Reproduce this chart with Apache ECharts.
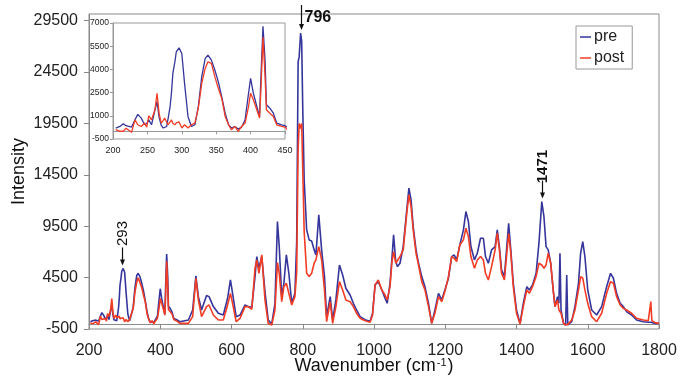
<!DOCTYPE html>
<html>
<head>
<meta charset="utf-8">
<script src="https://cdn.jsdelivr.net/npm/echarts@6/dist/echarts.min.js"></script>
<style>
  html, body { margin: 0; padding: 0; background: #fff; }
  #chart { width: 680px; height: 376px; }
</style>
</head>
<body>
<div id="chart"></div>
<script>
// Raman spectra, pre vs post
const wavenumbers = [
  204, 210, 215, 219, 227, 232, 236, 241, 246, 249, 252, 256, 261, 264, 267, 270, 273, 275, 278, 280,
  283, 285, 287, 290, 292, 296, 300, 304, 309, 314, 319, 324, 329, 334, 338, 343, 348, 353, 358, 363,
  368, 372, 377, 382, 387, 392, 397, 400, 404, 409, 413, 415, 418, 421, 423, 428, 433, 438, 445, 450,
  455, 479, 491, 500, 507, 516, 530, 537, 549, 563, 577, 589, 597, 603, 613, 624, 638, 647, 657, 666,
  671, 677, 685, 694, 703, 713, 722, 729, 734, 741, 747, 754, 761, 769, 778, 783, 787, 790, 794, 797,
  800, 804, 811, 818, 825, 832, 837, 845, 853, 861, 867, 877, 884, 893, 903, 912, 921, 933, 942, 951,
  961, 975, 989, 996, 1003, 1012, 1022, 1031, 1037, 1045, 1050, 1055, 1061, 1066, 1073, 1082, 1092, 1098, 1104, 1110,
  1118, 1124, 1134, 1143, 1153, 1162, 1171, 1181, 1190, 1199, 1209, 1218, 1225, 1232, 1241, 1251, 1258, 1265, 1272, 1282,
  1290, 1299, 1307, 1313, 1321, 1330, 1340, 1346, 1352, 1358, 1366, 1372, 1378, 1384, 1391, 1400, 1410, 1419, 1429, 1436,
  1445, 1455, 1463, 1471, 1477, 1483, 1489, 1496, 1503, 1508, 1515, 1519, 1522, 1525, 1532, 1538, 1541, 1544, 1555, 1564,
  1574, 1580, 1586, 1592, 1600, 1611, 1625, 1639, 1653, 1664, 1672, 1681, 1691, 1700, 1709, 1723, 1737, 1756, 1770, 1777,
  1780, 1789, 1800
];
const pre = [
  210, 310, 480, 360, 270, 740, 1090, 850, 420, 500, 740, 420, 1390, 1920, 900, 400, 210, 250, 310, 800,
  1600, 2500, 3740, 4500, 5140, 5390, 5030, 3100, 960, 310, 420, 1600, 3530, 4710, 4920, 4600, 3960, 3210, 2240, 1170,
  420, 210, 310, 140, 270, 740, 2460, 3420, 2460, 1600, 960, 3530, 6790, 4600, 1710, 1490, 1170, 530, 420, 360,
  210, 380, 1350, 4660, 2650, 1350, 2750, 2650, 1680, 1030, 860, 2490, 4270, 2970, 700, 860, 1840, 1680, 1610, 4600,
  6550, 5410, 6550, 3140, 380, -10, 2000, 9960, 7520, 2650, 3950, 6710, 4920, 2000, 2970, 8000, 25500, 26000, 28300, 27500,
  21000, 14000, 9140, 8170, 8070, 7200, 6710, 10600, 7200, 4600, 700, 2650, 380, 2330, 5730, 4760, 3460, 2810, 2000, 1350,
  700, 400, 250, 1030, 3790, 4110, 3300, 2490, 2000, 3950, 6220, 8660, 6060, 5570, 5900, 7520, 11090, 13200, 12070, 9470,
  7200, 6060, 4600, 3620, 2000, 50, 1350, 2970, 2330, 3300, 4440, 6550, 6710, 6220, 7680, 9140, 10930, 9960, 7520, 6220,
  6870, 8330, 8330, 6550, 5900, 7200, 7520, 9140, 7520, 5250, 4600, 7200, 9790, 7200, 3950, 1350, 50, 2000, 3620, 3300,
  3790, 4920, 7850, 11900, 10440, 7520, 7200, 5900, 3300, 1680, 2650, 2000, 6870, 1350, 50, -110, 4760, -110, 210, 1680,
  3950, 6870, 8010, 6550, 3300, 1350, 860, 1680, 3620, 4920, 4440, 2970, 2000, 1680, 1190, 860, 380, 210, 150, 150,
  100, 50, 50
];
const post = [
  100, 0, 0, 200, -70, 740, 420, 310, 530, 270, 1000, 740, 1390, 2460, 1170, 530, 700, 850, 600, 420,
  600, 740, 500, 420, 550, 600, 210, 420, 210, 420, 530, 1490, 3100, 4060, 4490, 4390, 3530, 2780, 2140, 960,
  420, 100, 310, 0, 310, 530, 1600, 2460, 2030, 1390, 850, 2670, 6100, 3530, 1390, 1170, 960, 420, 310, 270,
  50, 50, 700, 4440, 2330, 700, 1680, 1840, 860, 380, 380, 1840, 2970, 2000, 210, 540, 1680, 1680, 1420, 5410,
  6220, 4920, 6710, 2330, 50, -110, 1350, 5960, 4920, 2160, 3620, 3950, 2970, 1840, 2650, 5000, 17000, 19500, 19000, 19500,
  15000, 9000, 4920, 4600, 4920, 5900, 6220, 7520, 6220, 3300, 210, 2160, 50, 1680, 4110, 3300, 2330, 2160, 1680, 1030,
  540, 300, 150, 860, 3790, 4270, 3300, 2810, 2330, 3620, 5900, 7030, 5900, 5900, 6550, 7200, 10770, 12550, 11420, 9140,
  6870, 5900, 4110, 3300, 1680, 50, 1030, 2650, 2160, 3140, 4600, 6550, 6380, 6060, 7680, 8170, 9310, 8490, 6550, 5410,
  6220, 6550, 6220, 4920, 4270, 5570, 7200, 8820, 7200, 4920, 4270, 6550, 8820, 6870, 3620, 1030, -10, 1680, 3300, 2970,
  3620, 4600, 5900, 5730, 5410, 5730, 6870, 5900, 3300, 1680, 2330, 1350, 1200, 1030, 50, -110, -110, -50, 380, 1350,
  3300, 4600, 4440, 3300, 2000, 700, 210, 1030, 2970, 4110, 3950, 2650, 1840, 1510, 1350, 1030, 540, 380, 310, 2160,
  310, 120, 50
];
const peakLabels = [293, 796, 1471];
const mainXTicks = [200, 400, 600, 800, 1000, 1200, 1400, 1600, 1800];
const mainYTicks = [-500, 4500, 9500, 14500, 19500, 24500, 29500];
const insetXTicks = [200, 250, 300, 350, 400, 450];
const insetYTicks = [-500, 1000, 2500, 4000, 5500, 7000];

const preData = wavenumbers.map((w, i) => [w, pre[i]]);
const postData = wavenumbers.map((w, i) => [w, post[i]]);

const FONT = "'Liberation Sans', Arial, sans-serif";
const BLUE = '#35359c';
const RED = '#f23c24';
const AXIS = '#8a8a8a';
const plain = (v) => String(v);

const chart = echarts.init(document.getElementById('chart'));

const option = {
  animation: false,
  textStyle: { fontFamily: FONT },
  legend: {
    data: ['pre', 'post'],
    orient: 'vertical',
    left: 576,
    top: 26,
    icon: 'rect',
    itemWidth: 11,
    itemHeight: 1.5,
    itemGap: 5,
    padding: [3, 8, 3, 4],
    borderColor: '#999',
    borderWidth: 1,
    backgroundColor: '#fff',
    textStyle: { fontSize: 16, color: '#222', padding: [0, 0, 0, -2] }
  },
  grid: [
    { left: 89, right: 21, top: 14, bottom: 47, show: true, borderColor: AXIS, borderWidth: 1,
      outerBoundsMode: 'none', containLabel: false },
    { left: 113, width: 172, top: 23, height: 116, show: true, borderColor: '#999', borderWidth: 1,
      outerBoundsMode: 'none', containLabel: false }
  ],
  xAxis: [
    {
      type: 'value',
      gridIndex: 0,
      min: mainXTicks[0],
      max: mainXTicks[mainXTicks.length - 1],
      interval: 200,
      name: '{a|Wavenumber (cm}{b|-1}{a|)}',
      nameLocation: 'middle',
      nameGap: 28,
      nameMoveOverlap: false,
      nameTextStyle: {
        rich: {
          a: { fontSize: 18, color: '#111', fontFamily: FONT },
          b: { fontSize: 11, color: '#111', fontFamily: FONT, verticalAlign: 'top', padding: [0, 1, 6, 1] }
        }
      },
      axisLine: { lineStyle: { color: AXIS } },
      axisTick: { length: 5, lineStyle: { color: AXIS } },
      axisLabel: { fontSize: 16, color: '#222', margin: 14, formatter: plain },
      splitLine: { show: false }
    },
    {
      type: 'value',
      gridIndex: 1,
      min: insetXTicks[0],
      max: insetXTicks[insetXTicks.length - 1],
      interval: 50,
      axisLine: { lineStyle: { color: '#999' } },
      axisTick: { length: 3, lineStyle: { color: '#999' } },
      axisLabel: { fontSize: 9, color: '#222', margin: 7, formatter: plain },
      splitLine: { show: false }
    }
  ],
  yAxis: [
    {
      type: 'value',
      gridIndex: 0,
      min: mainYTicks[0],
      max: 30150,
      interval: 5000,
      name: 'Intensity',
      nameLocation: 'middle',
      nameGap: 61,
      nameMoveOverlap: false,
      nameTextStyle: { fontSize: 18, color: '#111' },
      axisLine: { show: true, lineStyle: { color: AXIS } },
      axisTick: { show: true, length: 5, lineStyle: { color: AXIS } },
      axisLabel: { fontSize: 16, color: '#222', margin: 11, showMaxLabel: false, formatter: plain },
      splitLine: { show: false }
    },
    {
      type: 'value',
      gridIndex: 1,
      min: insetYTicks[0],
      max: insetYTicks[insetYTicks.length - 1],
      interval: 1500,
      axisLine: { show: true, lineStyle: { color: '#999' } },
      axisTick: { show: true, length: 3, lineStyle: { color: '#999' } },
      axisLabel: { fontSize: 8.5, color: '#222', margin: 4, formatter: plain },
      splitLine: { show: false }
    }
  ],
  series: [
    { name: 'pre', type: 'line', xAxisIndex: 0, yAxisIndex: 0, data: preData, showSymbol: false,
      lineStyle: { color: BLUE, width: 1.6 }, itemStyle: { color: BLUE } },
    { name: 'post', type: 'line', xAxisIndex: 0, yAxisIndex: 0, data: postData, showSymbol: false,
      lineStyle: { color: RED, width: 1.6 }, itemStyle: { color: RED } },
    { name: 'pre', type: 'line', xAxisIndex: 1, yAxisIndex: 1, data: preData, showSymbol: false, clip: true,
      lineStyle: { color: BLUE, width: 1.3 }, itemStyle: { color: BLUE } },
    { name: 'post', type: 'line', xAxisIndex: 1, yAxisIndex: 1, data: postData, showSymbol: false, clip: true,
      lineStyle: { color: RED, width: 1.3 }, itemStyle: { color: RED } }
  ]
};
chart.setOption(option);

// peak arrows + labels, placed through the main grid's scales
const graphics = [];
const topY = chart.convertToPixel({ gridIndex: 0 }, [800, 30150])[1];
peakLabels.forEach((wn) => {
  let peak = -Infinity;
  wavenumbers.forEach((w, i) => {
    if (Math.abs(w - wn) <= 5 && pre[i] > peak) peak = pre[i];
  });
  const p = chart.convertToPixel({ gridIndex: 0 }, [wn, peak]);
  const x = Math.round(p[0]) + 0.5;
  const tip = p[1] - 3;
  const start = wn === 796 ? topY - 9 : tip - 18;
  graphics.push({
    type: 'line', silent: true,
    shape: { x1: x, y1: start, x2: x, y2: tip - 5 },
    style: { stroke: '#111', lineWidth: 1.2 }
  });
  graphics.push({
    type: 'polygon', silent: true,
    shape: { points: [[x - 2.5, tip - 6], [x + 2.5, tip - 6], [x, tip]] },
    style: { fill: '#111' }
  });
  if (wn === 796) {
    graphics.push({
      type: 'text', silent: true, x: x + 3, y: start + 13,
      style: { text: String(wn), font: 'bold 16px ' + FONT, fill: '#111', align: 'left', verticalAlign: 'middle' }
    });
  } else {
    graphics.push({
      type: 'text', silent: true, x: x, y: start - 14, rotation: Math.PI / 2,
      style: {
        text: String(wn), font: (wn === 1471 ? 'bold ' : '') + '15px ' + FONT,
        fill: '#111', align: 'center', verticalAlign: 'middle'
      }
    });
  }
});
chart.setOption({ graphic: graphics });
</script>
</body>
</html>
